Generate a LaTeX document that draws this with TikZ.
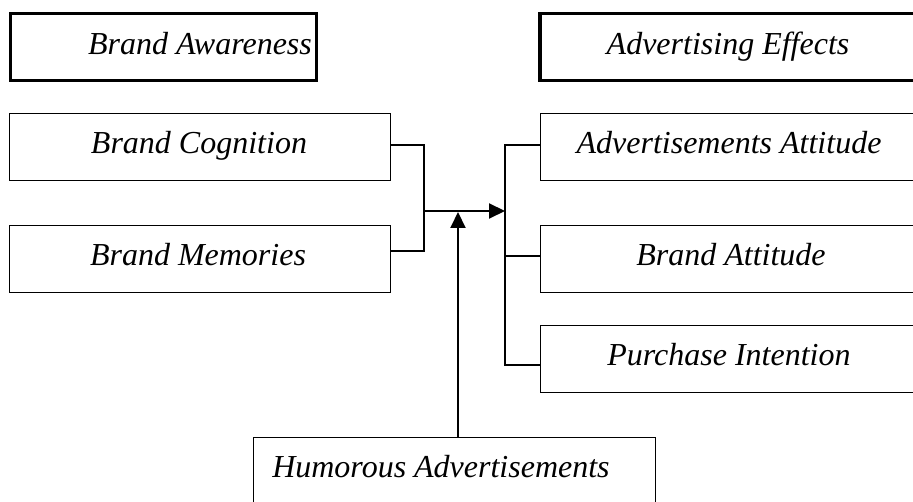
\documentclass[tikz,border=0pt]{standalone}
\usepackage{fontspec}
\setmainfont{Liberation Serif}
\usetikzlibrary{arrows.meta,calc}
\begin{document}
\begin{tikzpicture}[x=1pt,y=-1pt,
  box/.style={draw=black,line width=1.2pt,rectangle,inner sep=0pt,outer sep=0pt,minimum height=67pt},
  thickbox/.style={box,line width=3.5pt},
  lbl/.style={anchor=base,inner sep=0pt,font=\itshape\fontsize{32}{38}\selectfont},
  conn/.style={line width=1.3pt},
  arr/.style={line width=2pt,-{Triangle[length=16pt,width=15pt]}}]
\useasboundingbox (0,0) rectangle (913,502);
\clip (0,0) rectangle (913,502);
\fill[white] (0,0) rectangle (913,502);
% boxes
\node[thickbox,minimum width=306pt] (aw) at (163.5,47) {};
\node[thickbox,minimum width=390pt] (ae) at (734.75,47) {};
\node[box,minimum width=381pt] (bc) at (200,147) {};
\node[box,minimum width=381pt] (bm) at (200,259) {};
\node[box,minimum width=390pt] (aa) at (735.25,147) {};
\node[box,minimum width=390pt] (ba) at (735.25,259) {};
\node[box,minimum width=390pt] (pi) at (735.25,359) {};
\node[box,minimum width=402pt,minimum height=102pt] (ha) at (454.5,488.5) {};
% labels
\node[lbl] (taw) at (200,55) {Brand Awareness};
\node[lbl] (tae) at (728,55) {Advertising Effects};
\node[lbl] (tbc) at (199,154) {Brand Cognition};
\node[lbl] (tbm) at (198,266) {Brand Memories};
\node[lbl] (taa) at (729,154) {Advertisements Attitude};
\node[lbl] (tba) at (731,266) {Brand Attitude};
\node[lbl] (tpi) at (729,366) {Purchase Intention};
\node[lbl] (tha) at (441,477) {Humorous Advertisements};
% junctions
\coordinate (jl) at (424,211);
\coordinate (jr) at (505,211);
\coordinate (up) at (458,212);
% connectors
\draw[conn] ([yshift=2pt]bc.east) -| (jl);
\draw[conn] ([yshift=8pt]bm.east) -| (jl);
\draw[conn] ([yshift=2pt]aa.west) -| (jr);
\draw[conn] ([yshift=3pt]ba.west) -| (jr);
\draw[conn] ([yshift=-6pt]pi.west) -| (jr);
\draw[arr] (jl) -- (jr);
\draw[arr] (ha.north -| up) -- (up);
\end{tikzpicture}
\end{document}
